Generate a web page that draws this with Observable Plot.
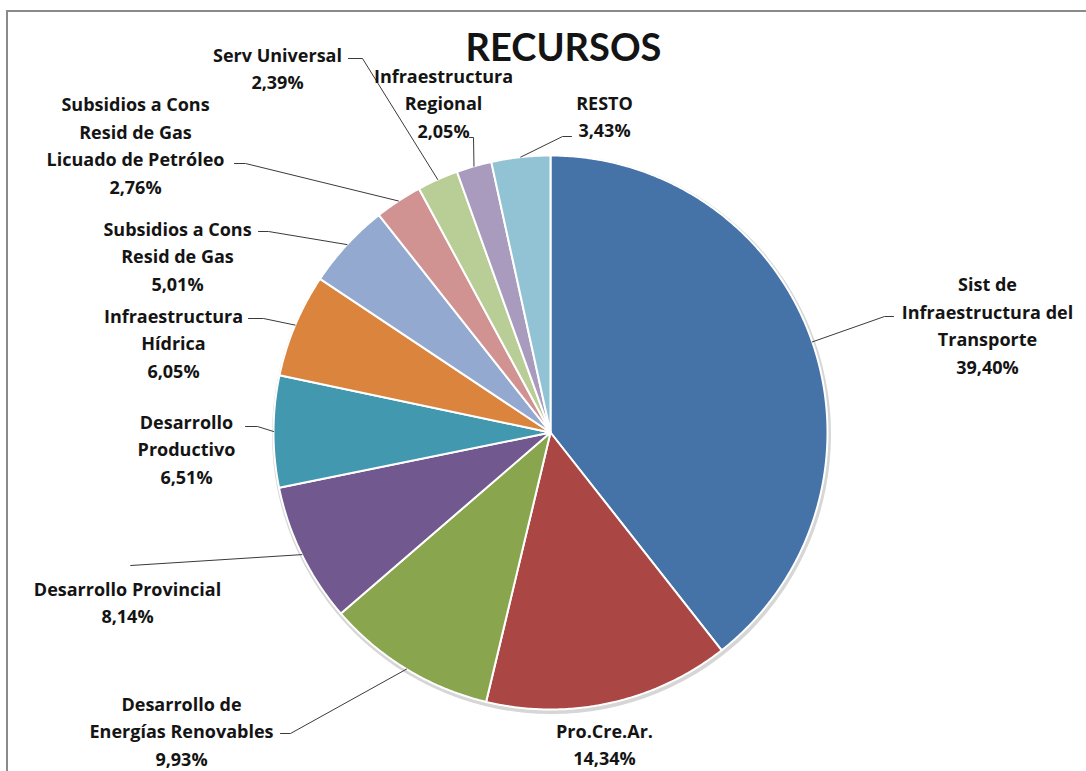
<!DOCTYPE html>
<html><head><meta charset="utf-8">
<script src="https://cdn.jsdelivr.net/npm/d3@7"></script>
<script src="https://cdn.jsdelivr.net/npm/@observablehq/plot@0.6"></script>
<style>
html,body{margin:0;padding:0;background:#fff;overflow:hidden}
#wrap{position:relative;width:1086px;height:771px}
#wrap svg{position:absolute;left:0;top:0}
#border{position:absolute;left:6px;top:10px;right:-10px;bottom:-10px;border-left:2px solid #8a8a8a;border-top:2px solid #8a8a8a;pointer-events:none}
</style></head><body><div id="wrap"><div id="border"></div></div>
<script>
// ---- data ----
const categories = [
  "Sist de Infraestructura del Transporte",
  "Pro.Cre.Ar.",
  "Desarrollo de Energías Renovables",
  "Desarrollo Provincial",
  "Desarrollo Productivo",
  "Infraestructura Hídrica",
  "Subsidios a Cons Resid de Gas",
  "Subsidios a Cons Resid de Gas Licuado de Petróleo",
  "Serv Universal",
  "Infraestructura Regional",
  "RESTO"
];
const labelLines = [
  "Sist de\nInfraestructura del\nTransporte",
  "Pro.Cre.Ar.",
  "Desarrollo de\nEnergías Renovables",
  "Desarrollo Provincial",
  "Desarrollo\nProductivo",
  "Infraestructura\nHídrica",
  "Subsidios a Cons\nResid de Gas",
  "Subsidios a Cons\nResid de Gas\nLicuado de Petróleo",
  "Serv Universal",
  "Infraestructura\nRegional",
  "RESTO"
];
const values = [39.40, 14.34, 9.93, 8.14, 6.51, 6.05, 5.01, 2.76, 2.39, 2.05, 3.43];
const colors = ["#4572A7", "#AA4643", "#89A54E", "#71588F", "#4198AF", "#DB843D",
                "#93A9CF", "#D19392", "#B9CD96", "#A99BBD", "#92C3D4"];
const title = "RECURSOS";

// ---- layout (pixels) ----
const cx = 550, cy = 432, R = 277;
const labelPos = [[987,323],[604,742],[181,729],[127,600],[186,447],[173,341],[177,254],[135,143],[277,66],[443,101],[604,114]];
// leader: [elbowX, elbowY, endX] (null = no leader)
const leaders = [[884,316,893],null,[290,733,280],[130,565,130],[257,426,245],[263,318,248],[268,231,258],[245,163,234],[362,58,348],[473,137,469],[562,136,571]];

// ---- geometry from data ----
const total = d3.sum(values);
let acc = 0;
const slices = categories.map((c, i) => {
  const a0 = acc / total * 2 * Math.PI; acc += values[i];
  const a1 = acc / total * 2 * Math.PI;
  return {c, a0, a1, mid: (a0 + a1) / 2};
});
const pt = (a, r) => [cx + r * Math.sin(a), cy - r * Math.cos(a)];
const slicePts = slices.flatMap(s => {
  const n = Math.max(2, Math.ceil((s.a1 - s.a0) / (Math.PI / 360)));
  const pts = [{c: s.c, x: cx, y: cy}];
  for (let k = 0; k <= n; k++) {
    const [x, y] = pt(s.a0 + (s.a1 - s.a0) * k / n, R);
    pts.push({c: s.c, x, y});
  }
  pts.push({c: s.c, x: cx, y: cy});
  return pts;
});
const leaderPts = slices.flatMap((s, i) => {
  const L = leaders[i]; if (!L) return [];
  const [x0, y0] = pt(s.mid, R);
  return [{c: s.c, x: x0, y: y0}, {c: s.c, x: L[0], y: L[1]}, {c: s.c, x: L[2], y: L[1]}];
});
const fmt = v => v.toFixed(2).replace(".", ",") + "%";
const labels = categories.map((c, i) => ({
  text: labelLines[i] + "\n" + fmt(values[i]),
  x: labelPos[i][0], y: labelPos[i][1]
}));

const chart = Plot.plot({
  width: 1086, height: 771, margin: 0,
  x: {domain: [0, 1086], range: [0, 1086], axis: null},
  y: {domain: [0, 771], range: [0, 771], axis: null},
  color: {domain: categories, range: colors},
  style: {background: "transparent", overflow: "visible"},
  marks: [
    Plot.dot([{x: cx + 1, y: cy + 2}], {x: "x", y: "y", r: R + 2.5, fill: "#d6d6d6", stroke: "none"}),
    Plot.line(slicePts, {x: "x", y: "y", z: "c", fill: "c", stroke: "white", strokeWidth: 2, strokeLinejoin: "round"}),
    Plot.line(leaderPts, {x: "x", y: "y", z: "c", stroke: "#3a3a3a", strokeWidth: 1}),
    Plot.text(labels, {x: "x", y: "y", text: "text", fontSize: 18, fontWeight: "bold", fill: "#141414",
      lineHeight: 1.54, fontFamily: "Open Sans"}),
    Plot.text([{t: title, x: 563, y: 48}], {x: "x", y: "y", text: "t", fontSize: 38, fontWeight: "bold",
      fill: "#141414", fontFamily: "Lato"})
  ]
});
document.getElementById("wrap").prepend(chart);
</script>
</body></html>
